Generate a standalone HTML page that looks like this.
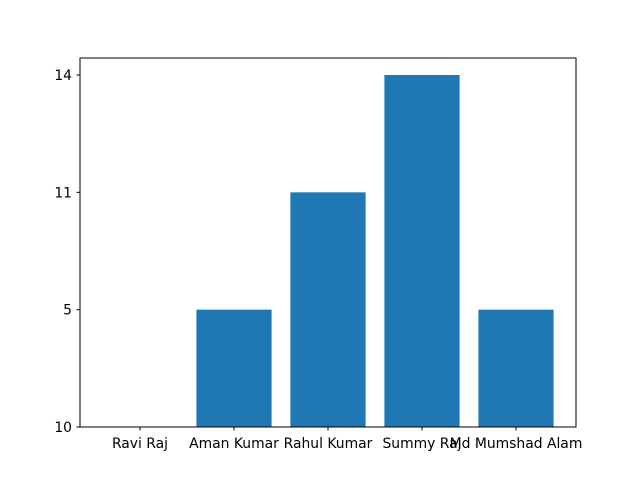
<!DOCTYPE html>
<html>
<head>
<meta charset="utf-8">
<style>
html,body{margin:0;padding:0;background:#fff;}
svg{display:block;font-family:"DejaVu Sans","Liberation Sans",sans-serif;}
</style>
</head>
<body>
<svg id="chart" width="640" height="480" viewBox="0 0 640 480">
<rect x="0" y="0" width="640" height="480" fill="#fff"/>
<g id="bars"></g>
<g id="xticks"></g>
<g id="yticks"></g>
<rect x="80" y="58" width="496" height="369" fill="none" stroke="#000" stroke-width="1"/>
</svg>
<script>
const categories = ["Ravi Raj", "Aman Kumar", "Rahul Kumar", "Summy Raj", "Md Mumshad Alam"];
const values = ["10", "5", "11", "14", "5"];
const yCategories = ["10", "5", "11", "14"];

const NS = "http://www.w3.org/2000/svg";
const plotBottom = 427, unitY = 117.33;
const x0 = 140, stepX = 94, barW = 75.2;
function xScale(i){ return x0 + i * stepX; }
function yScale(v){ return plotBottom - yCategories.indexOf(v) * unitY; }
function yIdx(i){ return plotBottom - i * unitY; }

const bars = document.getElementById("bars");
const xt = document.getElementById("xticks");
const yt = document.getElementById("yticks");

categories.forEach((c, i) => {
  const top = yScale(values[i]);
  const r = document.createElementNS(NS, "rect");
  r.setAttribute("x", xScale(i) - barW / 2);
  r.setAttribute("y", top);
  r.setAttribute("width", barW);
  r.setAttribute("height", Math.max(0, plotBottom - top));
  r.setAttribute("fill", "#1f77b4");
  
  
  bars.appendChild(r);

  const tk = document.createElementNS(NS, "line");
  tk.setAttribute("x1", xScale(i)); tk.setAttribute("x2", xScale(i));
  tk.setAttribute("y1", plotBottom); tk.setAttribute("y2", plotBottom + 3.5);
  tk.setAttribute("stroke", "#000");
  
  
  xt.appendChild(tk);

  const t = document.createElementNS(NS, "text");
  t.setAttribute("x", xScale(i)); t.setAttribute("y", plotBottom + 21);
  t.setAttribute("text-anchor", "middle");
  t.setAttribute("font-size", "13.9");
  t.textContent = c;
  
  
  xt.appendChild(t);
});

yCategories.forEach((v, i) => {
  const y = yIdx(i);
  const tk = document.createElementNS(NS, "line");
  tk.setAttribute("x1", 76.5); tk.setAttribute("x2", 80);
  tk.setAttribute("y1", y); tk.setAttribute("y2", y);
  tk.setAttribute("stroke", "#000");
  
  
  yt.appendChild(tk);

  const t = document.createElementNS(NS, "text");
  t.setAttribute("x", 72); t.setAttribute("y", y + 5);
  t.setAttribute("text-anchor", "end");
  t.setAttribute("font-size", "13.9");
  t.textContent = v;
  
  
  yt.appendChild(t);
});
</script>
</body>
</html>
